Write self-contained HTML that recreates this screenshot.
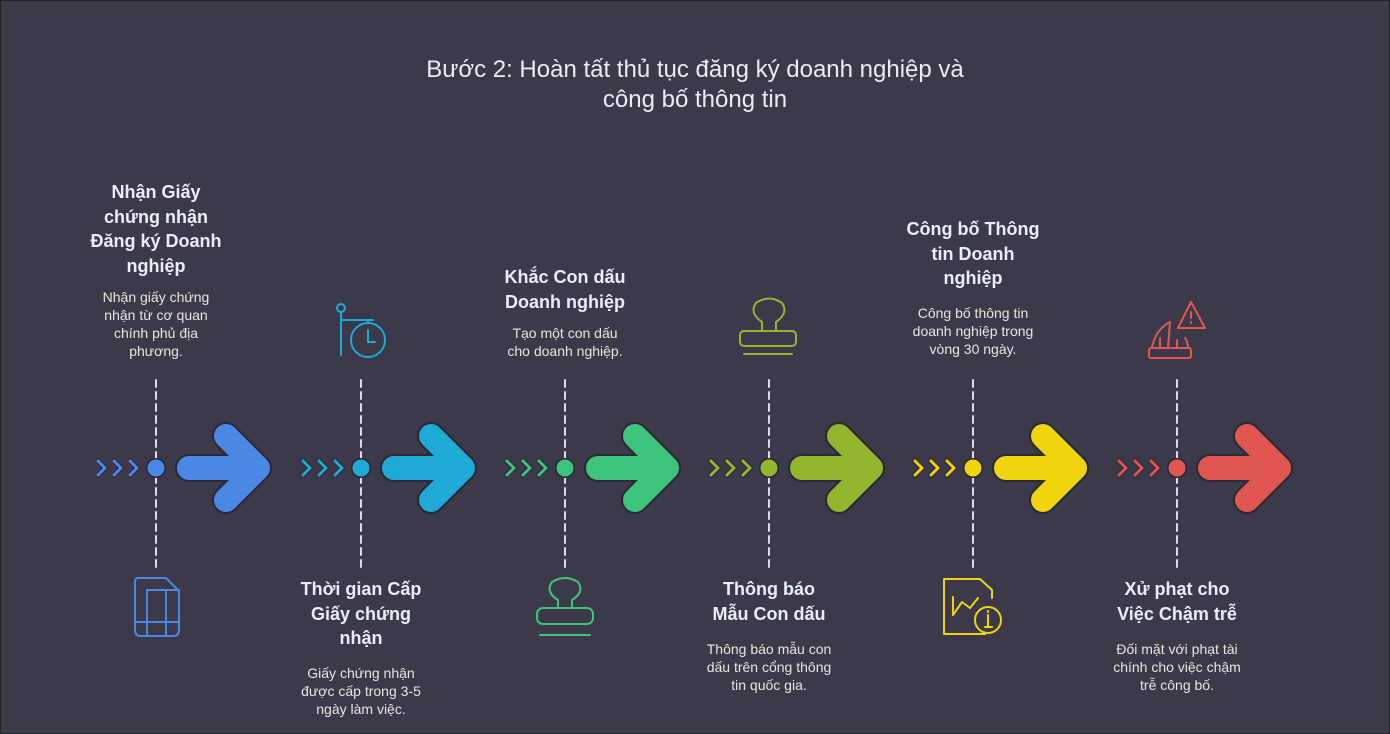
<!DOCTYPE html>
<html><head><meta charset="utf-8"><style>
body{margin:0;width:1390px;height:734px;background:#3c394b;font-family:"Liberation Sans","DejaVu Sans",sans-serif;position:relative;overflow:hidden}
.t{position:absolute;width:240px;margin-left:-120px;text-align:center}
.h{font-weight:bold;font-size:18px;line-height:24.5px;color:#e8eef8}
.d{font-size:14px;line-height:18px;color:#ece4dc}
#title{position:absolute;left:0;width:1390px;top:55px;text-align:center;font-size:24px;line-height:30px;color:#eceaf2}
</style></head><body>
<div style="position:absolute;inset:0;border:1px solid #222"></div>
<div id="title">Bước 2: Hoàn tất thủ tục đăng ký doanh nghiệp và<br>công bố thông tin</div>
<svg width="1390" height="734" style="position:absolute;left:0;top:0" fill="none" stroke-linecap="round" stroke-linejoin="round">
<g stroke="#e6d6e6" stroke-width="2" stroke-dasharray="7 5">
<line x1="156" y1="380" x2="156" y2="568"/><line x1="361" y1="380" x2="361" y2="568"/><line x1="565" y1="380" x2="565" y2="568"/><line x1="769" y1="380" x2="769" y2="568"/><line x1="973" y1="380" x2="973" y2="568"/><line x1="1177" y1="380" x2="1177" y2="568"/>
</g>
<defs>
<path id="ch" d="M-58 461 L-51 468 L-58 475 M-42 461 L-35 468 L-42 475 M-26 461 L-19 468 L-26 475"/>
<path id="ah" d="M33 468 L102 468 M70 436 L102 468 L70 500"/>
<g id="ar">
<use href="#ch" stroke="#2a2834" stroke-width="5"/>
<use href="#ah" stroke="#2a2834" stroke-width="28"/>
<circle cx="0" cy="468" r="10" fill="#2a2834" stroke="none"/>
</g>
</defs>
<g transform="translate(156,0)" stroke="#4a88e5"><use href="#ar"/><use href="#ch" stroke-width="3"/><use href="#ah" stroke-width="24"/><circle cy="468" r="8.5" fill="#4a88e5" stroke="none"/></g>
<g transform="translate(361,0)" stroke="#1fa9d6"><use href="#ar"/><use href="#ch" stroke-width="3"/><use href="#ah" stroke-width="24"/><circle cy="468" r="8.5" fill="#1fa9d6" stroke="none"/></g>
<g transform="translate(565,0)" stroke="#3cc47c"><use href="#ar"/><use href="#ch" stroke-width="3"/><use href="#ah" stroke-width="24"/><circle cy="468" r="8.5" fill="#3cc47c" stroke="none"/></g>
<g transform="translate(769,0)" stroke="#92b72e"><use href="#ar"/><use href="#ch" stroke-width="3"/><use href="#ah" stroke-width="24"/><circle cy="468" r="8.5" fill="#92b72e" stroke="none"/></g>
<g transform="translate(973,0)" stroke="#f0d50e"><use href="#ar"/><use href="#ch" stroke-width="3"/><use href="#ah" stroke-width="24"/><circle cy="468" r="8.5" fill="#f0d50e" stroke="none"/></g>
<g transform="translate(1177,0)" stroke="#e05650"><use href="#ar"/><use href="#ch" stroke-width="3"/><use href="#ah" stroke-width="24"/><circle cy="468" r="8.5" fill="#e05650" stroke="none"/></g>
<!-- icons -->
<g stroke="#4a88e5" stroke-width="2"><path d="M138 578 H166 L179 591 V630 Q179 636 173 636 H141 Q135 636 135 630 V582 Q135 578 138 578 Z"/><path d="M147 590 H179 M147 590 V636 M166 590 V636 M135 622 H179"/></g>
<g stroke="#1fa9d6" stroke-width="2"><circle cx="341" cy="308" r="4"/><path d="M341 312 V355 M341 320 H373"/><circle cx="368" cy="340" r="17"/><path d="M368 330 V342 H375 M368 320 V323"/></g>
<g stroke="#3cc47c" stroke-width="2"><path d="M558 608 V600 Q545 592 552 582 Q565 574 578 582 Q585 592 572 600 V608 Z"/><rect x="537" y="608" width="56" height="16" rx="6"/><path d="M540 635 H590"/></g>
<g stroke="#92b72e" stroke-width="2"><path d="M762 331 V322 Q749 313 756 303 Q769 294 782 303 Q789 313 776 322 V331 Z"/><rect x="740" y="331" width="56" height="15" rx="4"/><path d="M744 354 H792"/></g>
<g stroke="#f0d50e" stroke-width="2"><path d="M944 579 H980 L992 590 V598 M985 634 H944 V579"/><path d="M953 615 V597 M953 615 L962 602 L970 608 L978 598"/><circle cx="988" cy="620" r="13"/><path d="M988 615 V627 M985 627 H992 M988 611 V612"/></g>
<g stroke="#e05650" stroke-width="2"><path d="M1191 302 L1178 328 H1205 Z"/><path d="M1191 312 V318 M1191 322 V323"/><rect x="1149" y="348" width="42" height="10" rx="2"/><path d="M1152 348 Q1155 330 1170 322 L1168 348 M1177 340 V348 M1185 338 Q1188 342 1188 348 M1160 348 V338"/></g>
</svg>
<div class="t h" style="left:156px;top:180px">Nhận Giấy<br>chứng nhận<br>Đăng ký Doanh<br>nghiệp</div>
<div class="t d" style="left:156px;top:288px">Nhận giấy chứng<br>nhận từ cơ quan<br>chính phủ địa<br>phương.</div>
<div class="t h" style="left:361px;top:577px">Thời gian Cấp<br>Giấy chứng<br>nhận</div>
<div class="t d" style="left:361px;top:664px">Giấy chứng nhận<br>được cấp trong 3-5<br>ngày làm việc.</div>
<div class="t h" style="left:565px;top:265px">Khắc Con dấu<br>Doanh nghiệp</div>
<div class="t d" style="left:565px;top:324px">Tạo một con dấu<br>cho doanh nghiệp.</div>
<div class="t h" style="left:769px;top:577px">Thông báo<br>Mẫu Con dấu</div>
<div class="t d" style="left:769px;top:640px">Thông báo mẫu con<br>dấu trên cổng thông<br>tin quốc gia.</div>
<div class="t h" style="left:973px;top:217px">Công bố Thông<br>tin Doanh<br>nghiệp</div>
<div class="t d" style="left:973px;top:304px">Công bố thông tin<br>doanh nghiệp trong<br>vòng 30 ngày.</div>
<div class="t h" style="left:1177px;top:577px">Xử phạt cho<br>Việc Chậm trễ</div>
<div class="t d" style="left:1177px;top:640px">Đối mặt với phạt tài<br>chính cho việc chậm<br>trễ công bố.</div>
</body></html>
